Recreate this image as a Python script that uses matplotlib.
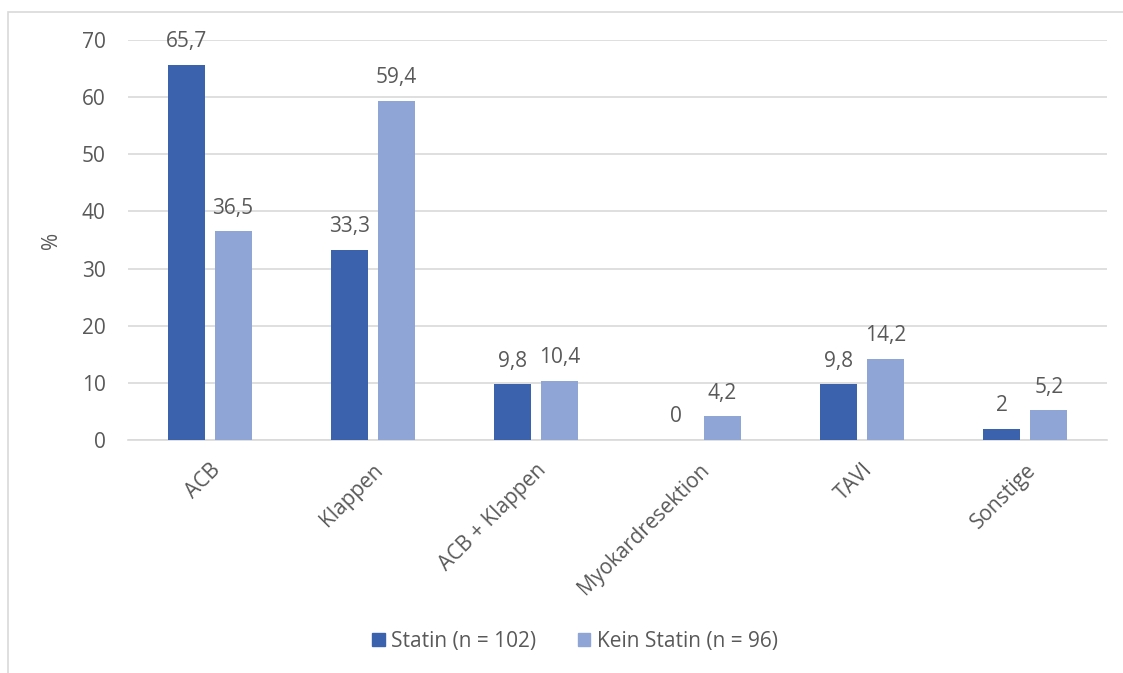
import matplotlib.pyplot as plt
import matplotlib.patches as mpatches
import numpy as np

plt.rcParams['font.family'] = ['Open Sans', 'DejaVu Sans']

categories = ["ACB", "Klappen", "ACB + Klappen", "Myokardresektion", "TAVI", "Sonstige"]
statin = [65.7, 33.3, 9.8, 0, 9.8, 2]
kein_statin = [36.5, 59.4, 10.4, 4.2, 14.2, 5.2]
series_names = ["Statin (n = 102)", "Kein Statin (n = 96)"]

dark = '#3A62AD'
light = '#8FA5D5'
txt = '#595959'

fig = plt.figure(figsize=(11.23, 6.73), dpi=100)
# light frame around the chart area
fig.patches.append(mpatches.Rectangle((8 / 1123, -0.05), 1.2, 1 - 12 / 673 + 0.05,
                                      transform=fig.transFigure, fill=False,
                                      edgecolor='#D9D9D9', linewidth=1.2))

ax = fig.add_axes([128 / 1123, 233 / 673, 979 / 1123, 400 / 673])

x = np.arange(len(categories))
w = 0.227
off = 0.144
b1 = ax.bar(x - off, statin, w, color=dark, zorder=3)
b2 = ax.bar(x + off, kein_statin, w, color=light, zorder=3)

def fmt(v):
    s = ('%.1f' % v).replace('.', ',')
    return s[:-2] if s.endswith(',0') else s

for bars, vals in [(b1, statin), (b2, kein_statin)]:
    for r, v in zip(bars, vals):
        ax.annotate(fmt(v), (r.get_x() + r.get_width() / 2, v), xytext=(0, 9),
                    textcoords='offset points', ha='center', va='bottom',
                    fontsize=15, color=txt)

ax.set_xlim(-0.5, len(categories) - 0.5)
ax.set_ylim(0, 70)
ax.set_yticks(range(0, 80, 10))
ax.yaxis.grid(True, color='#D9D9D9', linewidth=1.2, zorder=0)
ax.set_axisbelow(True)
for s in ['top', 'right', 'left']:
    ax.spines[s].set_visible(False)
ax.spines['bottom'].set_color('#D9D9D9')
ax.spines['bottom'].set_linewidth(1.2)
ax.tick_params(axis='both', length=0, labelsize=15, colors=txt)
ax.tick_params(axis='y', pad=16)
ax.tick_params(axis='x', pad=14)
ax.set_xticks(x)
ax.set_xticklabels(categories, rotation=45, ha='right', rotation_mode='anchor')
ax.set_ylabel('%', fontsize=15, color=txt, labelpad=14)

handles = [mpatches.Patch(color=dark), mpatches.Patch(color=light)]
fig.legend(handles, series_names, loc='center', bbox_to_anchor=(575 / 1123, 1 - 641 / 673),
           ncol=2, frameon=False, fontsize=15, labelcolor=txt,
           handlelength=0.6, handleheight=0.6, handletextpad=0.3, columnspacing=2.0)

fig.savefig('out.png', dpi=100)
